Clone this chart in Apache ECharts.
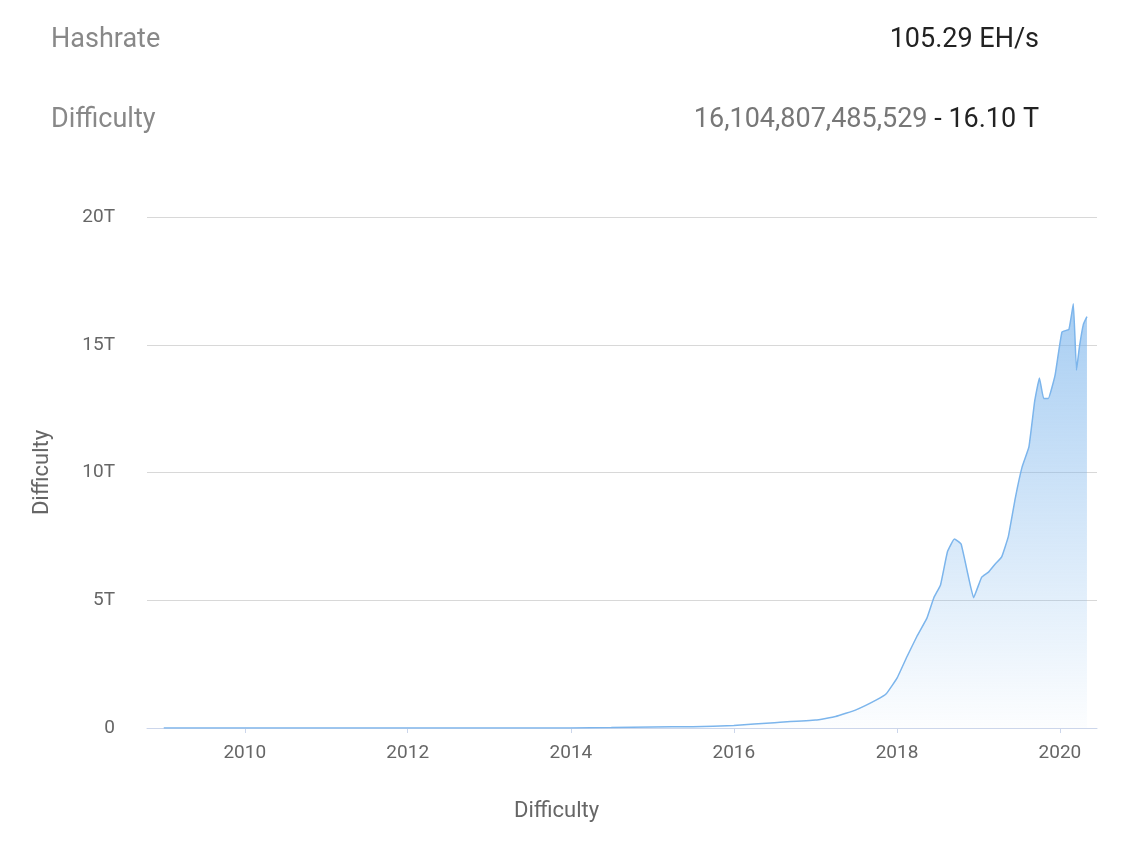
<!DOCTYPE html>
<html><head><meta charset="utf-8">
<script src="https://cdn.jsdelivr.net/npm/echarts@6/dist/echarts.min.js"></script>
<style>body{margin:0;background:#fff}#c{width:1140px;height:856px}</style>
</head><body><div id="c"></div>
<script>
// difficulty in T
var dates = ['2009-01-03','2010-01-01','2011-01-01','2012-01-01','2013-01-01','2014-01-01','2014-07-01','2015-01-01','2015-07-01','2016-01-01','2016-07-01','2017-01-01','2017-04-01','2017-07-01','2017-10-01','2017-11-15','2018-01-01','2018-02-15','2018-04-01','2018-05-15','2018-06-15','2018-07-15','2018-08-15','2018-09-15','2018-10-15','2018-11-15','2018-12-10','2019-01-15','2019-02-15','2019-03-15','2019-04-15','2019-05-15','2019-06-15','2019-07-15','2019-08-15','2019-09-10','2019-10-01','2019-10-20','2019-11-10','2019-12-10','2020-01-10','2020-02-10','2020-03-01','2020-03-15','2020-03-28','2020-04-15','2020-05-01'];
var values = [0,0,0,0.000001,0.000003,0.0014,0.017,0.04,0.05,0.1,0.21,0.31,0.45,0.71,1.1,1.35,1.95,2.8,3.6,4.3,5.1,5.6,6.9,7.4,7.2,6.0,5.1,5.9,6.1,6.4,6.7,7.5,9.0,10.2,11.0,12.8,13.7,12.9,12.9,13.8,15.5,15.6,16.6,14.0,14.9,15.8,16.1];

var chart = echarts.init(document.getElementById('c'));
var data = dates.map(function (d, i) { return [d, values[i]]; });

chart.setOption({
  textStyle: {fontFamily: 'Roboto'},
  title: [
    {text: 'Hashrate', left: 46, top: 22, textStyle: {color: '#888', fontSize: 27, fontWeight: 'normal'}},
    {text: '105.29 EH/s', right: 96, top: 22, textStyle: {color: '#222', fontSize: 27, fontWeight: 'normal'}},
    {text: 'Difficulty', left: 46, top: 102, textStyle: {color: '#888', fontSize: 27, fontWeight: 'normal'}},
    {text: '{a|16,104,807,485,529} - 16.10 T', right: 96, top: 102,
     textStyle: {color: '#222', fontSize: 27, fontWeight: 'normal', rich: {a: {color: '#777', fontSize: 27}}}}
  ],
  graphic: [{type: 'text', left: 514, top: 800, style: {text: 'Difficulty', fill: '#666', fontSize: 22, fontFamily: 'Roboto'}}],
  grid: {left: 147, right: 43, top: 217, bottom: 128},
  xAxis: {
    type: 'time', min: '2008-10-20', max: '2020-06-15',
    axisLine: {lineStyle: {color: '#ccd6eb'}},
    axisTick: {show: true, lineStyle: {color: '#ccd6eb'}},
    splitLine: {show: false},
    axisLabel: {color: '#666', fontSize: 19, margin: 16,
      formatter: function (v) { var y = new Date(v).getFullYear(); return y % 2 === 0 ? String(y) : ''; }},
    interval: 365.25 * 24 * 3600 * 1000
  },
  yAxis: {
    type: 'value', min: 0, max: 20, interval: 5,
    name: 'Difficulty', nameLocation: 'middle', nameGap: 94,
    nameTextStyle: {color: '#666', fontSize: 22},
    axisLabel: {color: '#666', fontSize: 19, margin: 32, formatter: function (v) { return v === 0 ? '0' : v + 'T'; }},
    splitLine: {lineStyle: {color: '#d8d8d8'}}
  },
  series: [{
    type: 'line', data: data, showSymbol: false, smooth: 0.1,
    lineStyle: {color: '#7cb5ec', width: 1.5},
    areaStyle: {color: new echarts.graphic.LinearGradient(0, 0, 0, 1, [
      {offset: 0, color: 'rgba(124,181,236,0.95)'}, {offset: 1, color: 'rgba(124,181,236,0.03)'}])}
  }]
});
</script></body></html>
